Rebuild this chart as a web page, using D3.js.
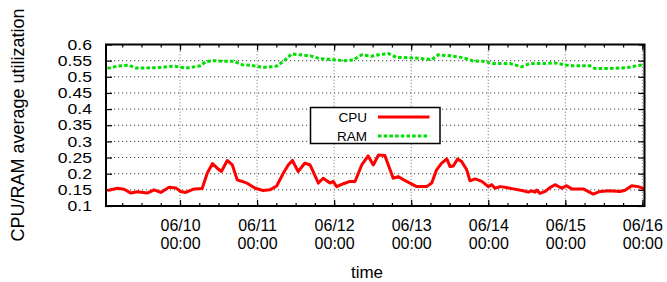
<!DOCTYPE html>
<html>
<head>
<meta charset="utf-8">
<script src="https://cdn.jsdelivr.net/npm/d3@7"></script>
<style>
  body { margin: 0; background: #fff; }
  svg text { font-family: "Liberation Sans", Arial, sans-serif; fill: #000; }
</style>
</head>
<body>
<div id="chart"></div>
<script>
const width = 667;
const height = 282;

// hours counted from 06/09 00:00
const cpuHours = [1.4, 4.5, 6.6, 8.7, 10.7, 13.8, 15.9, 18.0, 20.6, 22.7, 24.2, 25.8, 28.4, 30.9,
  32.5, 34.1, 35.6, 36.9, 38.7, 40.3, 41.8, 43.4, 44.8, 47.4, 49.9, 52.0, 54.1, 56.2, 57.7, 59.0,
  60.8, 62.9, 64.5, 67.1, 68.6, 70.7, 71.7, 72.8, 74.9, 76.9, 78.5, 80.6, 82.6, 84.2, 85.8, 87.8,
  90.4, 91.9, 94.6, 97.7, 100.8, 102.4, 103.9, 105.5, 107.1, 108.1, 109.1, 110.4, 111.7, 113.3,
  114.3, 115.9, 118.0, 120.0, 121.1, 122.1, 123.7, 125.7, 127.8, 130.9, 132.5, 133.5, 134.6, 135.1,
  136.1, 137.7, 139.2, 140.8, 142.9, 144.4, 146.0, 149.6, 152.7, 154.8, 157.8, 161.0, 162.6, 164.7,
  166.7, 168.5];
const cpuValues = [0.148, 0.155, 0.152, 0.140, 0.144, 0.140, 0.150, 0.142, 0.158, 0.156, 0.145, 0.142, 0.153, 0.154,
  0.202, 0.231, 0.217, 0.207, 0.241, 0.227, 0.181, 0.176, 0.171, 0.155, 0.148, 0.150, 0.162, 0.202, 0.227, 0.241,
  0.207, 0.233, 0.227, 0.171, 0.186, 0.171, 0.176, 0.160, 0.169, 0.176, 0.176, 0.227, 0.255, 0.227, 0.258, 0.256,
  0.186, 0.191, 0.176, 0.160, 0.160, 0.171, 0.212, 0.233, 0.246, 0.222, 0.224, 0.245, 0.238, 0.212,
  0.178, 0.184, 0.176, 0.160, 0.166, 0.155, 0.160, 0.157, 0.153, 0.147, 0.143, 0.147, 0.143, 0.149,
  0.139, 0.145, 0.157, 0.166, 0.155, 0.163, 0.153, 0.153, 0.137, 0.145, 0.147, 0.145, 0.149, 0.163,
  0.160, 0.153];

const ramHours = [1.4, 4.5, 8.1, 10.2, 12.8, 18.0, 22.1, 25.8, 30.4, 32.0, 34.6, 37.7, 40.8, 43.4, 45.8,
  49.9, 54.1, 56.7, 58.8, 61.4, 65.0, 67.6, 70.7, 74.9, 77.9, 80.6, 83.7, 85.8, 88.9, 91.5, 95.6, 98.7,
  102.4, 104.4, 108.1, 112.2, 115.3, 118.4, 121.6, 126.8, 130.4, 133.0, 137.1, 140.8, 145.5, 151.7,
  153.2, 157.8, 163.0, 166.2, 168.2];
const ramValues = [0.526, 0.533, 0.536, 0.527, 0.527, 0.529, 0.533, 0.527, 0.534, 0.547, 0.550, 0.548, 0.548, 0.537, 0.536,
  0.529, 0.533, 0.552, 0.571, 0.568, 0.564, 0.556, 0.554, 0.550, 0.552, 0.568, 0.564, 0.568, 0.572, 0.560, 0.559, 0.557,
  0.553, 0.568, 0.565, 0.559, 0.549, 0.548, 0.541, 0.541, 0.531, 0.541, 0.541, 0.543, 0.534, 0.534,
  0.526, 0.526, 0.528, 0.534, 0.537];

const yTicks = [0.1, 0.15, 0.2, 0.25, 0.3, 0.35, 0.4, 0.45, 0.5, 0.55, 0.6];
const seriesNames = ['CPU', 'RAM'];
const seriesColors = ['#ff0000', '#00e000'];

const t0 = new Date(2013, 5, 9, 0, 0);
const hourToDate = h => new Date(t0.getTime() + h * 3600 * 1000);

const plot = { left: 106, right: 644.5, top: 44.5, bottom: 206 };

const x = d3.scaleTime()
  .domain([hourToDate(0.95), hourToDate(168.66)])
  .range([plot.left, plot.right]);

const y = d3.scaleLinear()
  .domain([0.1, 0.6])
  .range([plot.bottom, plot.top]);

const svg = d3.select('#chart')
  .append('svg')
  .attr('width', width)
  .attr('height', height);

const ph = plot.bottom - plot.top;
const pw = plot.right - plot.left;
const dayTicks = x.ticks(d3.timeDay.every(1));
const minorTicks = x.ticks(d3.timeHour.every(6));

// grid
svg.append('g')
  .selectAll('line')
  .data(yTicks.slice(1, -1))
  .enter().append('line')
  .attr('x1', plot.left).attr('x2', plot.right)
  .attr('y1', d => y(d)).attr('y2', d => y(d))
  .attr('stroke', '#444').attr('stroke-width', 1)
  .attr('stroke-dasharray', '1.2,2.8');

svg.append('g')
  .selectAll('line')
  .data(dayTicks)
  .enter().append('line')
  .attr('x1', d => x(d)).attr('x2', d => x(d))
  .attr('y1', plot.top).attr('y2', plot.bottom)
  .attr('stroke', '#888').attr('stroke-width', 1)
  .attr('stroke-dasharray', '1.2,2');

// ticks on all sides, pointing inward
svg.append('g')
  .attr('transform', `translate(0,${plot.bottom})`)
  .call(d3.axisBottom(x).tickValues(minorTicks).tickSize(-3).tickFormat(''))
  .call(g => g.select('.domain').remove());
svg.append('g')
  .attr('transform', `translate(0,${plot.top})`)
  .call(d3.axisTop(x).tickValues(minorTicks).tickSize(-3).tickFormat(''))
  .call(g => g.select('.domain').remove());
svg.append('g')
  .attr('transform', `translate(0,${plot.top})`)
  .call(d3.axisTop(x).tickValues(dayTicks).tickSize(-6).tickFormat(''))
  .call(g => g.select('.domain').remove());

const fmtDay = d3.timeFormat('%m/%d');
const fmtTime = d3.timeFormat('%H:%M');
const xAxis = svg.append('g')
  .attr('transform', `translate(0,${plot.bottom})`)
  .call(d3.axisBottom(x).tickValues(dayTicks).tickSize(-6).tickFormat(''))
  .call(g => g.select('.domain').remove());

// two-line labels, one text element per line
xAxis.selectAll('.tick').append('text')
  .attr('text-anchor', 'middle')
  .attr('font-size', 16)
  .attr('y', 19)
  .attr('dy', '0.35em')
  .text(d => fmtDay(d));
xAxis.selectAll('.tick').append('text')
  .attr('text-anchor', 'middle')
  .attr('font-size', 16)
  .attr('y', 37)
  .attr('dy', '0.35em')
  .text(d => fmtTime(d));

// y labels are packed tightly: smaller font stretched sideways
svg.append('g')
  .attr('transform', `translate(${plot.left},0)`)
  .call(d3.axisLeft(y).tickValues(yTicks).tickSize(-6).tickPadding(11.5).tickFormat(d3.format('')))
  .call(g => g.select('.domain').remove())
  .call(g => g.selectAll('text')
    .attr('font-size', 14.4)
    .attr('font-family', '"Liberation Sans", Arial, sans-serif')
    .attr('fill', '#000')
    .attr('transform', 'scale(1.22,1)'));

svg.append('g')
  .attr('transform', `translate(${plot.right},0)`)
  .call(d3.axisRight(y).tickValues(yTicks).tickSize(-6).tickFormat(''))
  .call(g => g.select('.domain').remove());

svg.selectAll('.tick line').attr('stroke', '#000').attr('stroke-width', 1.2);

// series
const line = d3.line()
  .x(d => x(hourToDate(d[0])))
  .y(d => y(d[1]));

svg.append('path')
  .datum(cpuHours.map((h, i) => [h, cpuValues[i]]))
  .attr('d', line)
  .attr('fill', 'none')
  .attr('stroke', seriesColors[0])
  .attr('stroke-width', 3)
  .attr('stroke-linejoin', 'round');

svg.append('path')
  .datum(ramHours.map((h, i) => [h, ramValues[i]]))
  .attr('d', line)
  .attr('fill', 'none')
  .attr('stroke', seriesColors[1])
  .attr('stroke-width', 3)
  .attr('stroke-dasharray', '3.5,2.2');

// border
svg.append('rect')
  .attr('x', plot.left).attr('y', plot.top)
  .attr('width', pw).attr('height', ph)
  .attr('fill', 'none')
  .attr('stroke', '#000')
  .attr('stroke-width', 2);

// legend
const legend = svg.append('g');
legend.append('rect')
  .attr('x', 310.5).attr('y', 107.5)
  .attr('width', 129.5).attr('height', 36)
  .attr('fill', '#fff')
  .attr('stroke', '#000')
  .attr('stroke-width', 1.5);

seriesNames.forEach((name, i) => {
  const cy = 117 + i * 19;
  legend.append('text')
    .attr('x', 367).attr('y', cy)
    .attr('dy', '0.35em')
    .attr('text-anchor', 'end')
    .attr('font-size', 13.5)
    .text(name);
  legend.append('line')
    .attr('x1', 378).attr('x2', 429.5)
    .attr('y1', cy).attr('y2', cy)
    .attr('stroke', seriesColors[i])
    .attr('stroke-width', 3)
    .attr('stroke-dasharray', i === 1 ? '3.5,2.2' : null);
});

// axis titles
svg.append('text')
  .attr('x', 367).attr('y', 272)
  .attr('dy', '0.35em')
  .attr('text-anchor', 'middle')
  .attr('font-size', 17)
  .text('time');

svg.append('text')
  .attr('transform', 'translate(18,125) rotate(-90)')
  .attr('dy', '0.35em')
  .attr('text-anchor', 'middle')
  .attr('font-size', 18)
  .text('CPU/RAM average utilization');
</script>
</body>
</html>
